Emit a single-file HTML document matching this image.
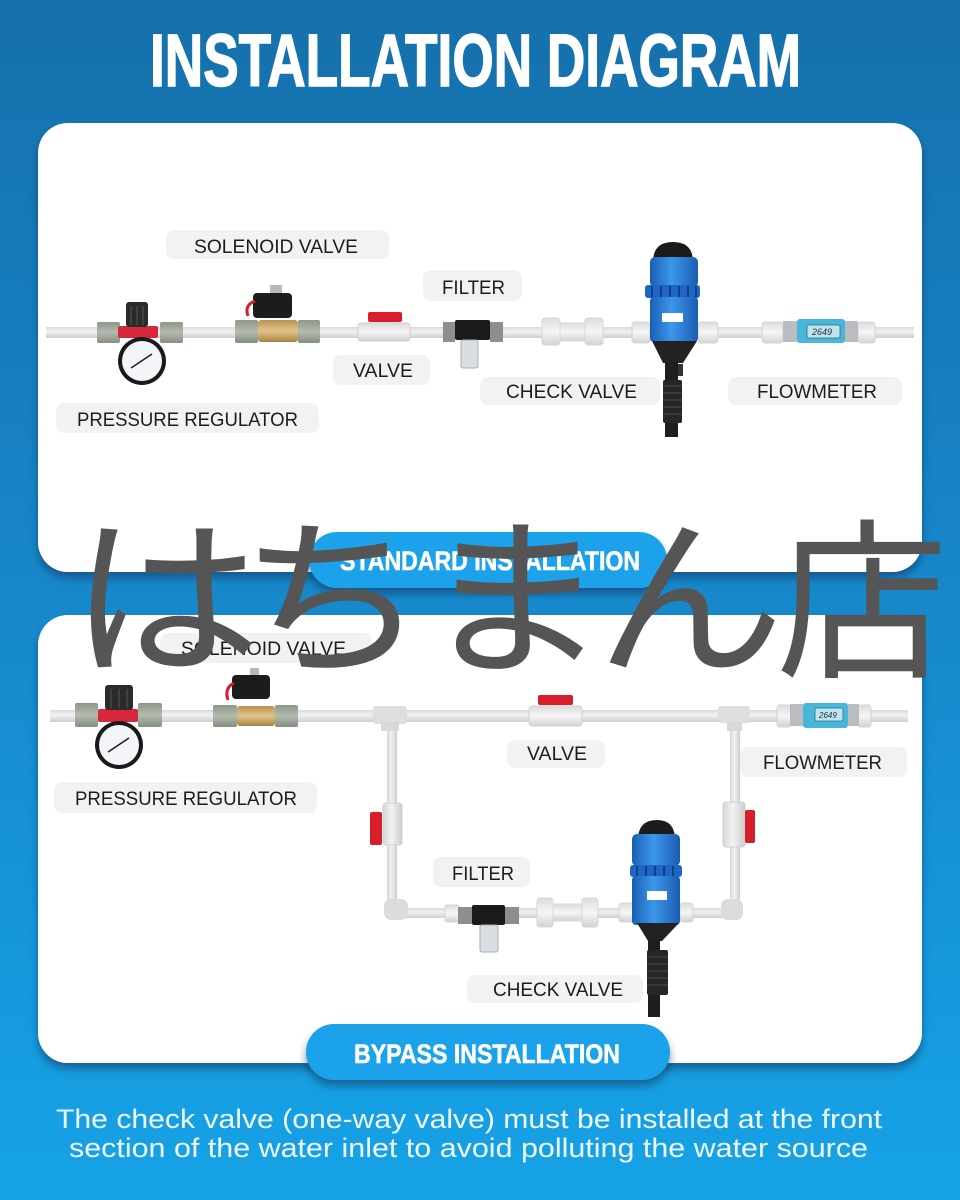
<!DOCTYPE html>
<html><head><meta charset="utf-8"><style>
html,body{margin:0;padding:0;width:960px;height:1200px;overflow:hidden;background:#1677b5}
svg{display:block}
.lbl{font-family:"Liberation Sans",sans-serif;font-size:19px;fill:#1c1c1c}
.hd{font-family:"Liberation Sans Narrow","Liberation Sans",sans-serif;font-weight:bold;fill:#fff}
</style></head><body>
<svg width="960" height="1200" viewBox="0 0 960 1200" xmlns="http://www.w3.org/2000/svg">
<defs>
<linearGradient id="bg" x1="0" y1="0" x2="0" y2="1">
<stop offset="0" stop-color="#1670ab"/><stop offset="0.45" stop-color="#1785c8"/><stop offset="1" stop-color="#16a3e6"/>
</linearGradient>
<linearGradient id="pipeH" x1="0" y1="0" x2="0" y2="1">
<stop offset="0" stop-color="#d9d9d9"/><stop offset="0.4" stop-color="#f2f2f2"/><stop offset="1" stop-color="#cfcfcf"/>
</linearGradient>
<linearGradient id="pipeV" x1="0" y1="0" x2="1" y2="0">
<stop offset="0" stop-color="#d6d6d6"/><stop offset="0.45" stop-color="#f2f2f2"/><stop offset="1" stop-color="#cccccc"/>
</linearGradient>
<linearGradient id="blue" x1="0" y1="0" x2="1" y2="0">
<stop offset="0" stop-color="#1a5fb4"/><stop offset="0.45" stop-color="#3b97ec"/><stop offset="1" stop-color="#1c5cb0"/>
</linearGradient>
<linearGradient id="nut" x1="0" y1="0" x2="0" y2="1">
<stop offset="0" stop-color="#8d968a"/><stop offset="0.5" stop-color="#b4bbb0"/><stop offset="1" stop-color="#858d82"/>
</linearGradient>
<linearGradient id="brass" x1="0" y1="0" x2="0" y2="1">
<stop offset="0" stop-color="#b8924e"/><stop offset="0.5" stop-color="#e2c58e"/><stop offset="1" stop-color="#a8843f"/>
</linearGradient>
<linearGradient id="wht" x1="0" y1="0" x2="0" y2="1">
<stop offset="0" stop-color="#dcdcdc"/><stop offset="0.5" stop-color="#f6f6f6"/><stop offset="1" stop-color="#d2d2d2"/>
</linearGradient>
<filter id="sh" x="-10%" y="-10%" width="120%" height="130%">
<feDropShadow dx="0" dy="6" stdDeviation="4" flood-color="#08345f" flood-opacity="0.55"/>
</filter>
</defs>
<rect x="0" y="0" width="960" height="1200" fill="url(#bg)"/>

<!-- Title -->
<text class="hd" x="150" y="86" font-size="74" textLength="651" lengthAdjust="spacingAndGlyphs" stroke="#fff" stroke-width="1.5">INSTALLATION DIAGRAM</text>

<!-- Panels -->
<rect x="38" y="123" width="884" height="449" rx="30" fill="#fff" filter="url(#sh)"/>
<rect x="38" y="615" width="884" height="448" rx="30" fill="#fff" filter="url(#sh)"/>

<!-- ============ PANEL 1 ============ -->
<rect x="46" y="327" width="868" height="11" fill="url(#pipeH)"/>

<!-- pressure regulator -->
<rect x="97" y="322" width="23" height="21" rx="2" fill="url(#nut)"/>
<rect x="160" y="322" width="23" height="21" rx="2" fill="url(#nut)"/>
<rect x="118" y="326" width="40" height="12" rx="2" fill="#d8283c"/>
<rect x="126" y="302" width="22" height="25" rx="3" fill="#2b2b2b"/>
<g stroke="#555" stroke-width="1"><line x1="131" y1="306" x2="131" y2="325"/><line x1="137" y1="306" x2="137" y2="325"/><line x1="143" y1="306" x2="143" y2="325"/></g>
<circle cx="142" cy="361" r="24" fill="#1a1a1a"/>
<circle cx="142" cy="361" r="20" fill="#f3f5f8"/>
<line x1="131" y1="368" x2="152" y2="354" stroke="#222" stroke-width="1.6"/>

<!-- solenoid valve -->
<rect x="235" y="320" width="23" height="23" rx="2" fill="url(#nut)"/>
<rect x="298" y="320" width="22" height="23" rx="2" fill="url(#nut)"/>
<rect x="258" y="320" width="40" height="22" rx="3" fill="url(#brass)"/>
<rect x="270" y="285" width="12" height="9" fill="#b8b8b8"/>
<rect x="253" y="293" width="39" height="25" rx="4" fill="#1c1c1c"/>
<path d="M255,301 Q244,305 248,316" stroke="#d3202e" stroke-width="3" fill="none"/>

<!-- valve -->
<rect x="358" y="323" width="52" height="18" rx="3" fill="url(#wht)" stroke="#d0d0d0"/>
<rect x="376" y="320" width="16" height="5" fill="#e0e0e0"/>
<rect x="368" y="312" width="34" height="10" rx="2" fill="#d81e2a"/>

<!-- filter -->
<rect x="443" y="322" width="12" height="20" fill="#8a918a"/>
<rect x="490" y="322" width="13" height="20" fill="#8a918a"/>
<rect x="455" y="320" width="35" height="20" rx="2" fill="#1a1a1a"/>
<rect x="461" y="340" width="17" height="28" rx="2" fill="#d9dee3" stroke="#a8adb3"/>

<!-- check valve -->
<rect x="542" y="318" width="18" height="27" rx="3" fill="url(#wht)" stroke="#d6d6d6"/>
<rect x="560" y="323" width="25" height="18" fill="url(#wht)" stroke="#dadada"/>
<rect x="585" y="318" width="18" height="27" rx="3" fill="url(#wht)" stroke="#d6d6d6"/>

<!-- pump 1 -->
<rect x="632" y="322" width="18" height="21" rx="3" fill="url(#wht)" stroke="#d4d4d4"/>
<rect x="698" y="322" width="20" height="21" rx="3" fill="url(#wht)" stroke="#d4d4d4"/>
<path d="M653,262 Q653,242 673,242 Q693,242 693,262 Z" fill="#1b1b1b"/>
<rect x="650" y="257" width="48" height="30" rx="5" fill="url(#blue)"/>
<rect x="645" y="285" width="55" height="13" rx="3" fill="#1e66c2"/>
<g stroke="#0f3f86" stroke-width="2"><line x1="652" y1="286" x2="652" y2="297"/><line x1="661" y1="286" x2="661" y2="297"/><line x1="670" y1="286" x2="670" y2="297"/><line x1="679" y1="286" x2="679" y2="297"/><line x1="688" y1="286" x2="688" y2="297"/><line x1="696" y1="286" x2="696" y2="297"/></g>
<rect x="650" y="297" width="48" height="45" rx="4" fill="url(#blue)"/>
<rect x="662" y="313" width="21" height="9" fill="#fff"/>
<path d="M652,341 L697,341 L683,363 L663,363 Z" fill="#222"/>
<rect x="665" y="362" width="13" height="75" fill="#1e1e1e"/>
<rect x="663" y="380" width="19" height="43" rx="2" fill="#262626"/>
<g stroke="#4a4a4a" stroke-width="1"><line x1="663" y1="386" x2="682" y2="386"/><line x1="663" y1="393" x2="682" y2="393"/><line x1="663" y1="400" x2="682" y2="400"/><line x1="663" y1="407" x2="682" y2="407"/><line x1="663" y1="414" x2="682" y2="414"/></g>
<rect x="678" y="364" width="5" height="12" fill="#333"/>

<!-- flowmeter 1 -->
<rect x="762" y="322" width="21" height="21" rx="3" fill="url(#wht)" stroke="#d4d4d4"/>
<rect x="858" y="322" width="17" height="21" rx="3" fill="url(#wht)" stroke="#d4d4d4"/>
<rect x="783" y="321" width="14" height="21" fill="#b9bdc1"/>
<rect x="845" y="321" width="13" height="21" fill="#b9bdc1"/>
<rect x="797" y="319" width="48" height="24" rx="3" fill="#47b6d9"/>
<rect x="807" y="325" width="33" height="13" rx="2" fill="#bfe4ee" stroke="#2f6f80" stroke-width="0.8"/>
<text x="812" y="335" font-family="Liberation Sans,sans-serif" font-size="9" font-style="italic" fill="#234">2649</text>

<!-- labels panel 1 -->
<rect x="166" y="230" width="223" height="29" rx="8" fill="#f2f2f2"/>
<text class="lbl" x="194" y="253" textLength="164" lengthAdjust="spacingAndGlyphs">SOLENOID VALVE</text>
<rect x="423" y="270" width="99" height="31" rx="8" fill="#f2f2f2"/>
<text class="lbl" x="442" y="294" textLength="63" lengthAdjust="spacingAndGlyphs">FILTER</text>
<rect x="333" y="355" width="97" height="30" rx="8" fill="#f2f2f2"/>
<text class="lbl" x="353" y="377" textLength="60" lengthAdjust="spacingAndGlyphs">VALVE</text>
<rect x="480" y="377" width="180" height="28" rx="8" fill="#f2f2f2"/>
<text class="lbl" x="506" y="398" textLength="131" lengthAdjust="spacingAndGlyphs">CHECK VALVE</text>
<rect x="728" y="377" width="174" height="28" rx="8" fill="#f2f2f2"/>
<text class="lbl" x="757" y="398" textLength="120" lengthAdjust="spacingAndGlyphs">FLOWMETER</text>
<rect x="56" y="403" width="263" height="30" rx="8" fill="#f2f2f2"/>
<text class="lbl" x="77" y="426" textLength="221" lengthAdjust="spacingAndGlyphs">PRESSURE REGULATOR</text>

<!-- ============ PANEL 2 ============ -->
<rect x="50" y="710" width="858" height="12" fill="url(#pipeH)"/>
<!-- left branch -->
<rect x="387" y="722" width="10" height="190" fill="url(#pipeV)"/>
<rect x="373" y="706" width="34" height="18" rx="3" fill="#dedede"/>
<rect x="381" y="722" width="18" height="9" fill="#d8d8d8"/>
<rect x="397" y="908" width="335" height="10" fill="url(#pipeH)"/>
<rect x="384" y="899" width="24" height="21" rx="7" fill="#dcdcdc"/>
<rect x="383" y="803" width="19" height="42" rx="3" fill="url(#pipeV)" stroke="#d0d0d0"/>
<rect x="370" y="812" width="12" height="33" rx="2" fill="#d81e2a"/>
<!-- right branch -->
<rect x="730" y="722" width="10" height="190" fill="url(#pipeV)"/>
<rect x="718" y="706" width="32" height="17" rx="3" fill="#dedede"/>
<rect x="727" y="722" width="15" height="9" fill="#d8d8d8"/>
<rect x="721" y="899" width="22" height="21" rx="7" fill="#dcdcdc"/>
<rect x="723" y="802" width="22" height="45" rx="3" fill="url(#pipeV)" stroke="#d0d0d0"/>
<rect x="745" y="810" width="10" height="33" rx="2" fill="#d81e2a"/>

<!-- pressure regulator 2 -->
<rect x="75" y="703" width="23" height="24" rx="2" fill="url(#nut)"/>
<rect x="138" y="703" width="24" height="24" rx="2" fill="url(#nut)"/>
<rect x="98" y="709" width="40" height="13" rx="2" fill="#d8283c"/>
<rect x="105" y="685" width="28" height="25" rx="3" fill="#2b2b2b"/>
<g stroke="#555" stroke-width="1"><line x1="111" y1="689" x2="111" y2="708"/><line x1="119" y1="689" x2="119" y2="708"/><line x1="127" y1="689" x2="127" y2="708"/></g>
<circle cx="119" cy="745" r="24" fill="#1a1a1a"/>
<circle cx="119" cy="745" r="20" fill="#f3f5f8"/>
<line x1="108" y1="752" x2="129" y2="738" stroke="#222" stroke-width="1.6"/>

<!-- solenoid 2 -->
<rect x="213" y="705" width="24" height="22" rx="2" fill="url(#nut)"/>
<rect x="275" y="705" width="23" height="22" rx="2" fill="url(#nut)"/>
<rect x="237" y="706" width="38" height="20" rx="3" fill="url(#brass)"/>
<rect x="250" y="668" width="9" height="8" fill="#b8b8b8"/>
<rect x="232" y="675" width="38" height="24" rx="4" fill="#1c1c1c"/>
<path d="M234,683 Q224,688 228,700" stroke="#d3202e" stroke-width="3" fill="none"/>

<!-- valve 2 -->
<rect x="529" y="706" width="53" height="20" rx="3" fill="url(#wht)" stroke="#d0d0d0"/>
<rect x="547" y="702" width="16" height="5" fill="#e0e0e0"/>
<rect x="538" y="695" width="35" height="10" rx="2" fill="#d81e2a"/>

<!-- flowmeter 2 -->
<rect x="777" y="705" width="14" height="22" rx="3" fill="url(#wht)" stroke="#d4d4d4"/>
<rect x="858" y="705" width="13" height="22" rx="3" fill="url(#wht)" stroke="#d4d4d4"/>
<rect x="790" y="704" width="13" height="22" fill="#b9bdc1"/>
<rect x="848" y="704" width="11" height="22" fill="#b9bdc1"/>
<rect x="803" y="703" width="45" height="25" rx="3" fill="#47b6d9"/>
<rect x="815" y="708" width="28" height="13" rx="2" fill="#bfe4ee" stroke="#2f6f80" stroke-width="0.8"/>
<text x="819" y="718" font-family="Liberation Sans,sans-serif" font-size="8" font-style="italic" fill="#234">2649</text>

<!-- filter 2 -->
<rect x="445" y="905" width="14" height="17" rx="2" fill="url(#wht)" stroke="#d4d4d4"/>
<rect x="458" y="907" width="14" height="17" fill="#8a918a"/>
<rect x="505" y="907" width="14" height="17" fill="#8a918a"/>
<rect x="472" y="905" width="33" height="20" rx="2" fill="#1a1a1a"/>
<rect x="480" y="925" width="18" height="27" rx="2" fill="#d9dee3" stroke="#a8adb3"/>

<!-- check valve 2 -->
<rect x="537" y="898" width="16" height="29" rx="3" fill="url(#wht)" stroke="#d6d6d6"/>
<rect x="553" y="904" width="29" height="17" fill="url(#wht)" stroke="#dadada"/>
<rect x="582" y="898" width="16" height="29" rx="3" fill="url(#wht)" stroke="#d6d6d6"/>

<!-- pump 2 -->
<rect x="619" y="903" width="14" height="19" rx="3" fill="url(#wht)" stroke="#d4d4d4"/>
<rect x="680" y="903" width="13" height="19" rx="3" fill="url(#wht)" stroke="#d4d4d4"/>
<path d="M638,840 Q638,820 657,820 Q675,820 675,840 Z" fill="#1b1b1b"/>
<rect x="632" y="834" width="48" height="32" rx="5" fill="url(#blue)"/>
<rect x="630" y="865" width="52" height="12" rx="3" fill="#1e66c2"/>
<g stroke="#0f3f86" stroke-width="2"><line x1="637" y1="866" x2="637" y2="876"/><line x1="646" y1="866" x2="646" y2="876"/><line x1="655" y1="866" x2="655" y2="876"/><line x1="664" y1="866" x2="664" y2="876"/><line x1="673" y1="866" x2="673" y2="876"/></g>
<rect x="632" y="876" width="48" height="49" rx="4" fill="url(#blue)"/>
<rect x="647" y="891" width="20" height="9" fill="#fff"/>
<path d="M637,923 L679,923 L662,941 L648,941 Z" fill="#222"/>
<rect x="648" y="940" width="12" height="77" fill="#1e1e1e"/>
<rect x="647" y="950" width="21" height="45" rx="2" fill="#262626"/>
<g stroke="#4a4a4a" stroke-width="1"><line x1="647" y1="957" x2="668" y2="957"/><line x1="647" y1="964" x2="668" y2="964"/><line x1="647" y1="971" x2="668" y2="971"/><line x1="647" y1="978" x2="668" y2="978"/><line x1="647" y1="985" x2="668" y2="985"/></g>

<!-- labels panel 2 -->
<rect x="160" y="633" width="212" height="30" rx="8" fill="#f2f2f2"/>
<text class="lbl" x="181" y="655" textLength="165" lengthAdjust="spacingAndGlyphs">SOLENOID VALVE</text>
<rect x="54" y="782" width="263" height="31" rx="8" fill="#f2f2f2"/>
<text class="lbl" x="75" y="805" textLength="222" lengthAdjust="spacingAndGlyphs">PRESSURE REGULATOR</text>
<rect x="507" y="740" width="98" height="28" rx="8" fill="#f2f2f2"/>
<text class="lbl" x="527" y="760" textLength="60" lengthAdjust="spacingAndGlyphs">VALVE</text>
<rect x="740" y="747" width="167" height="30" rx="8" fill="#f2f2f2"/>
<text class="lbl" x="763" y="769" textLength="119" lengthAdjust="spacingAndGlyphs">FLOWMETER</text>
<rect x="433" y="857" width="97" height="30" rx="8" fill="#f2f2f2"/>
<text class="lbl" x="452" y="880" textLength="62" lengthAdjust="spacingAndGlyphs">FILTER</text>
<rect x="467" y="975" width="176" height="28" rx="8" fill="#f2f2f2"/>
<text class="lbl" x="493" y="996" textLength="130" lengthAdjust="spacingAndGlyphs">CHECK VALVE</text>

<!-- Pills -->
<rect x="309" y="532" width="358" height="56" rx="28" fill="#1aa2ea" filter="url(#sh)"/>
<text class="hd" x="340" y="570" font-size="27" textLength="300" lengthAdjust="spacingAndGlyphs" stroke="#fff" stroke-width="0.6">STANDARD INSTALLATION</text>
<rect x="306" y="1024" width="364" height="56" rx="28" fill="#1aa2ea" filter="url(#sh)"/>
<text class="hd" x="354" y="1063" font-size="27" textLength="266" lengthAdjust="spacingAndGlyphs" stroke="#fff" stroke-width="0.6">BYPASS INSTALLATION</text>

<!-- Bottom note -->
<text x="56" y="1128" font-family="Liberation Sans,sans-serif" font-size="27" fill="#eef8fe" textLength="826" lengthAdjust="spacingAndGlyphs">The check valve (one-way valve) must be installed at the front</text>
<text x="69" y="1157" font-family="Liberation Sans,sans-serif" font-size="27" fill="#eef8fe" textLength="799" lengthAdjust="spacingAndGlyphs">section of the water inlet to avoid polluting the water source</text>

<!-- Watermark -->
<g font-family="'Noto Sans CJK JP','Liberation Sans',sans-serif" font-size="172" fill="#555555" text-anchor="middle">
<text transform="translate(165,661) scale(1.12,1)">は</text>
<text transform="translate(333,661) scale(1.1,1)">ち</text>
<text transform="translate(515,661) scale(1.08,1)">ま</text>
<text transform="translate(690,661) scale(1.1,1)">ん</text>
<text transform="translate(862,664)">店</text>
</g>
</svg>
</body></html>
